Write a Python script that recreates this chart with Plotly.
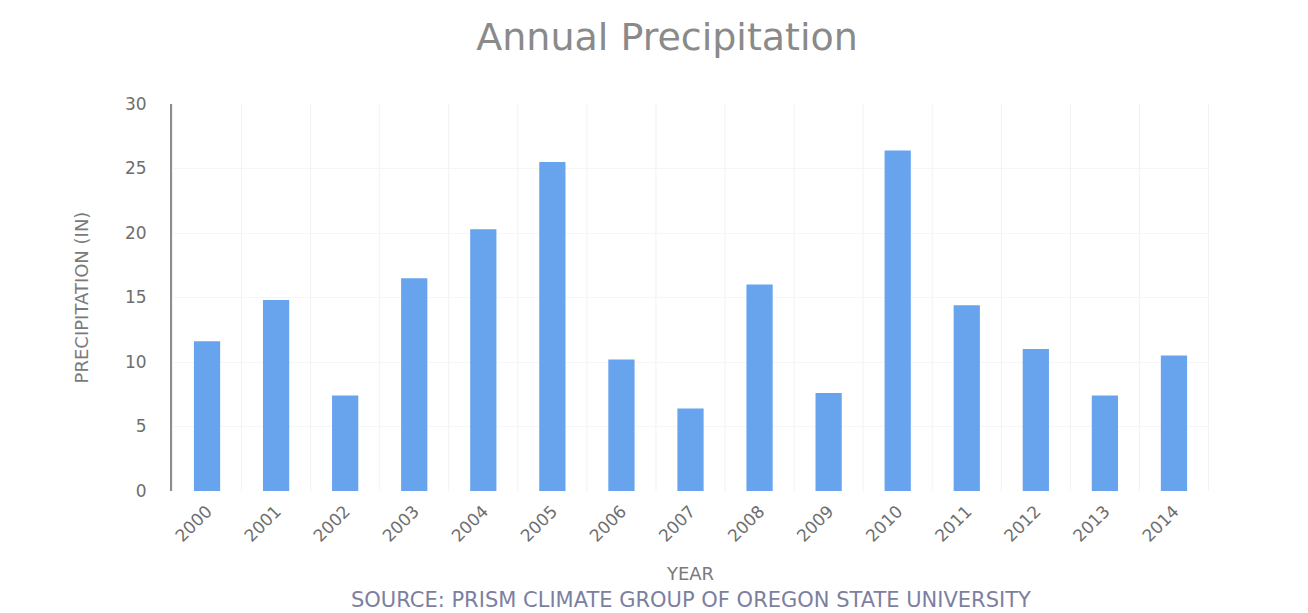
import plotly.graph_objects as go

years = ["2000", "2001", "2002", "2003", "2004", "2005", "2006", "2007",
         "2008", "2009", "2010", "2011", "2012", "2013", "2014"]
precip_in = [11.6, 14.8, 7.4, 16.5, 20.3, 25.5, 10.2, 6.4,
             16.0, 7.6, 26.4, 14.4, 11.0, 7.4, 10.5]
y_ticks = [0, 5, 10, 15, 20, 25, 30]

gray = "#7a7a7a"

fig = go.Figure(
    go.Bar(
        x=years,
        y=precip_in,
        marker=dict(color="#68a3ee", line=dict(width=0)),
        width=0.38,
    )
)

fig.update_layout(
    width=1308,
    height=613,
    margin=dict(l=172, r=99, t=104, b=122),
    paper_bgcolor="white",
    plot_bgcolor="white",
    showlegend=False,
    font=dict(family="DejaVu Sans", color=gray),
    title=dict(
        text="Annual Precipitation",
        x=0.51,
        xanchor="center",
        y=0.94,
        yanchor="middle",
        font=dict(size=38, color="#8a8a8a", family="DejaVu Sans"),
    ),
)

fig.update_xaxes(
    type="category",
    tickangle=-45,
    tickfont=dict(size=17, color="#6e6e6e"),
    ticklabelstandoff=6,
    showgrid=False,
    showline=False,
    ticks="",
    title=dict(text="YEAR", font=dict(size=18, color=gray), standoff=22),
)

# faint vertical separators between year categories
for i in range(len(years) + 1):
    fig.add_shape(
        type="line", xref="x", yref="paper",
        x0=i - 0.5, x1=i - 0.5, y0=0, y1=1,
        line=dict(color="#f2f2f2", width=1), layer="below",
    )

fig.update_yaxes(
    range=[0, 30],
    tickvals=y_ticks,
    tickfont=dict(size=17, color="#6e6e6e"),
    showgrid=True,
    gridcolor="#f6f6f6",
    zeroline=False,
    showline=True,
    linecolor="#8c8c8c",
    linewidth=2,
    ticks="",
    ticklabelstandoff=20,
    title=dict(text="PRECIPITATION (IN)", font=dict(size=18, color=gray), standoff=32),
)

fig.add_annotation(
    text="SOURCE: PRISM CLIMATE GROUP OF OREGON STATE UNIVERSITY",
    xref="paper", yref="paper",
    x=0.50, y=-0.282,
    xanchor="center", yanchor="middle",
    showarrow=False,
    font=dict(size=21, color="#7d7fa0", family="DejaVu Sans"),
)

fig.write_html("out.html")
